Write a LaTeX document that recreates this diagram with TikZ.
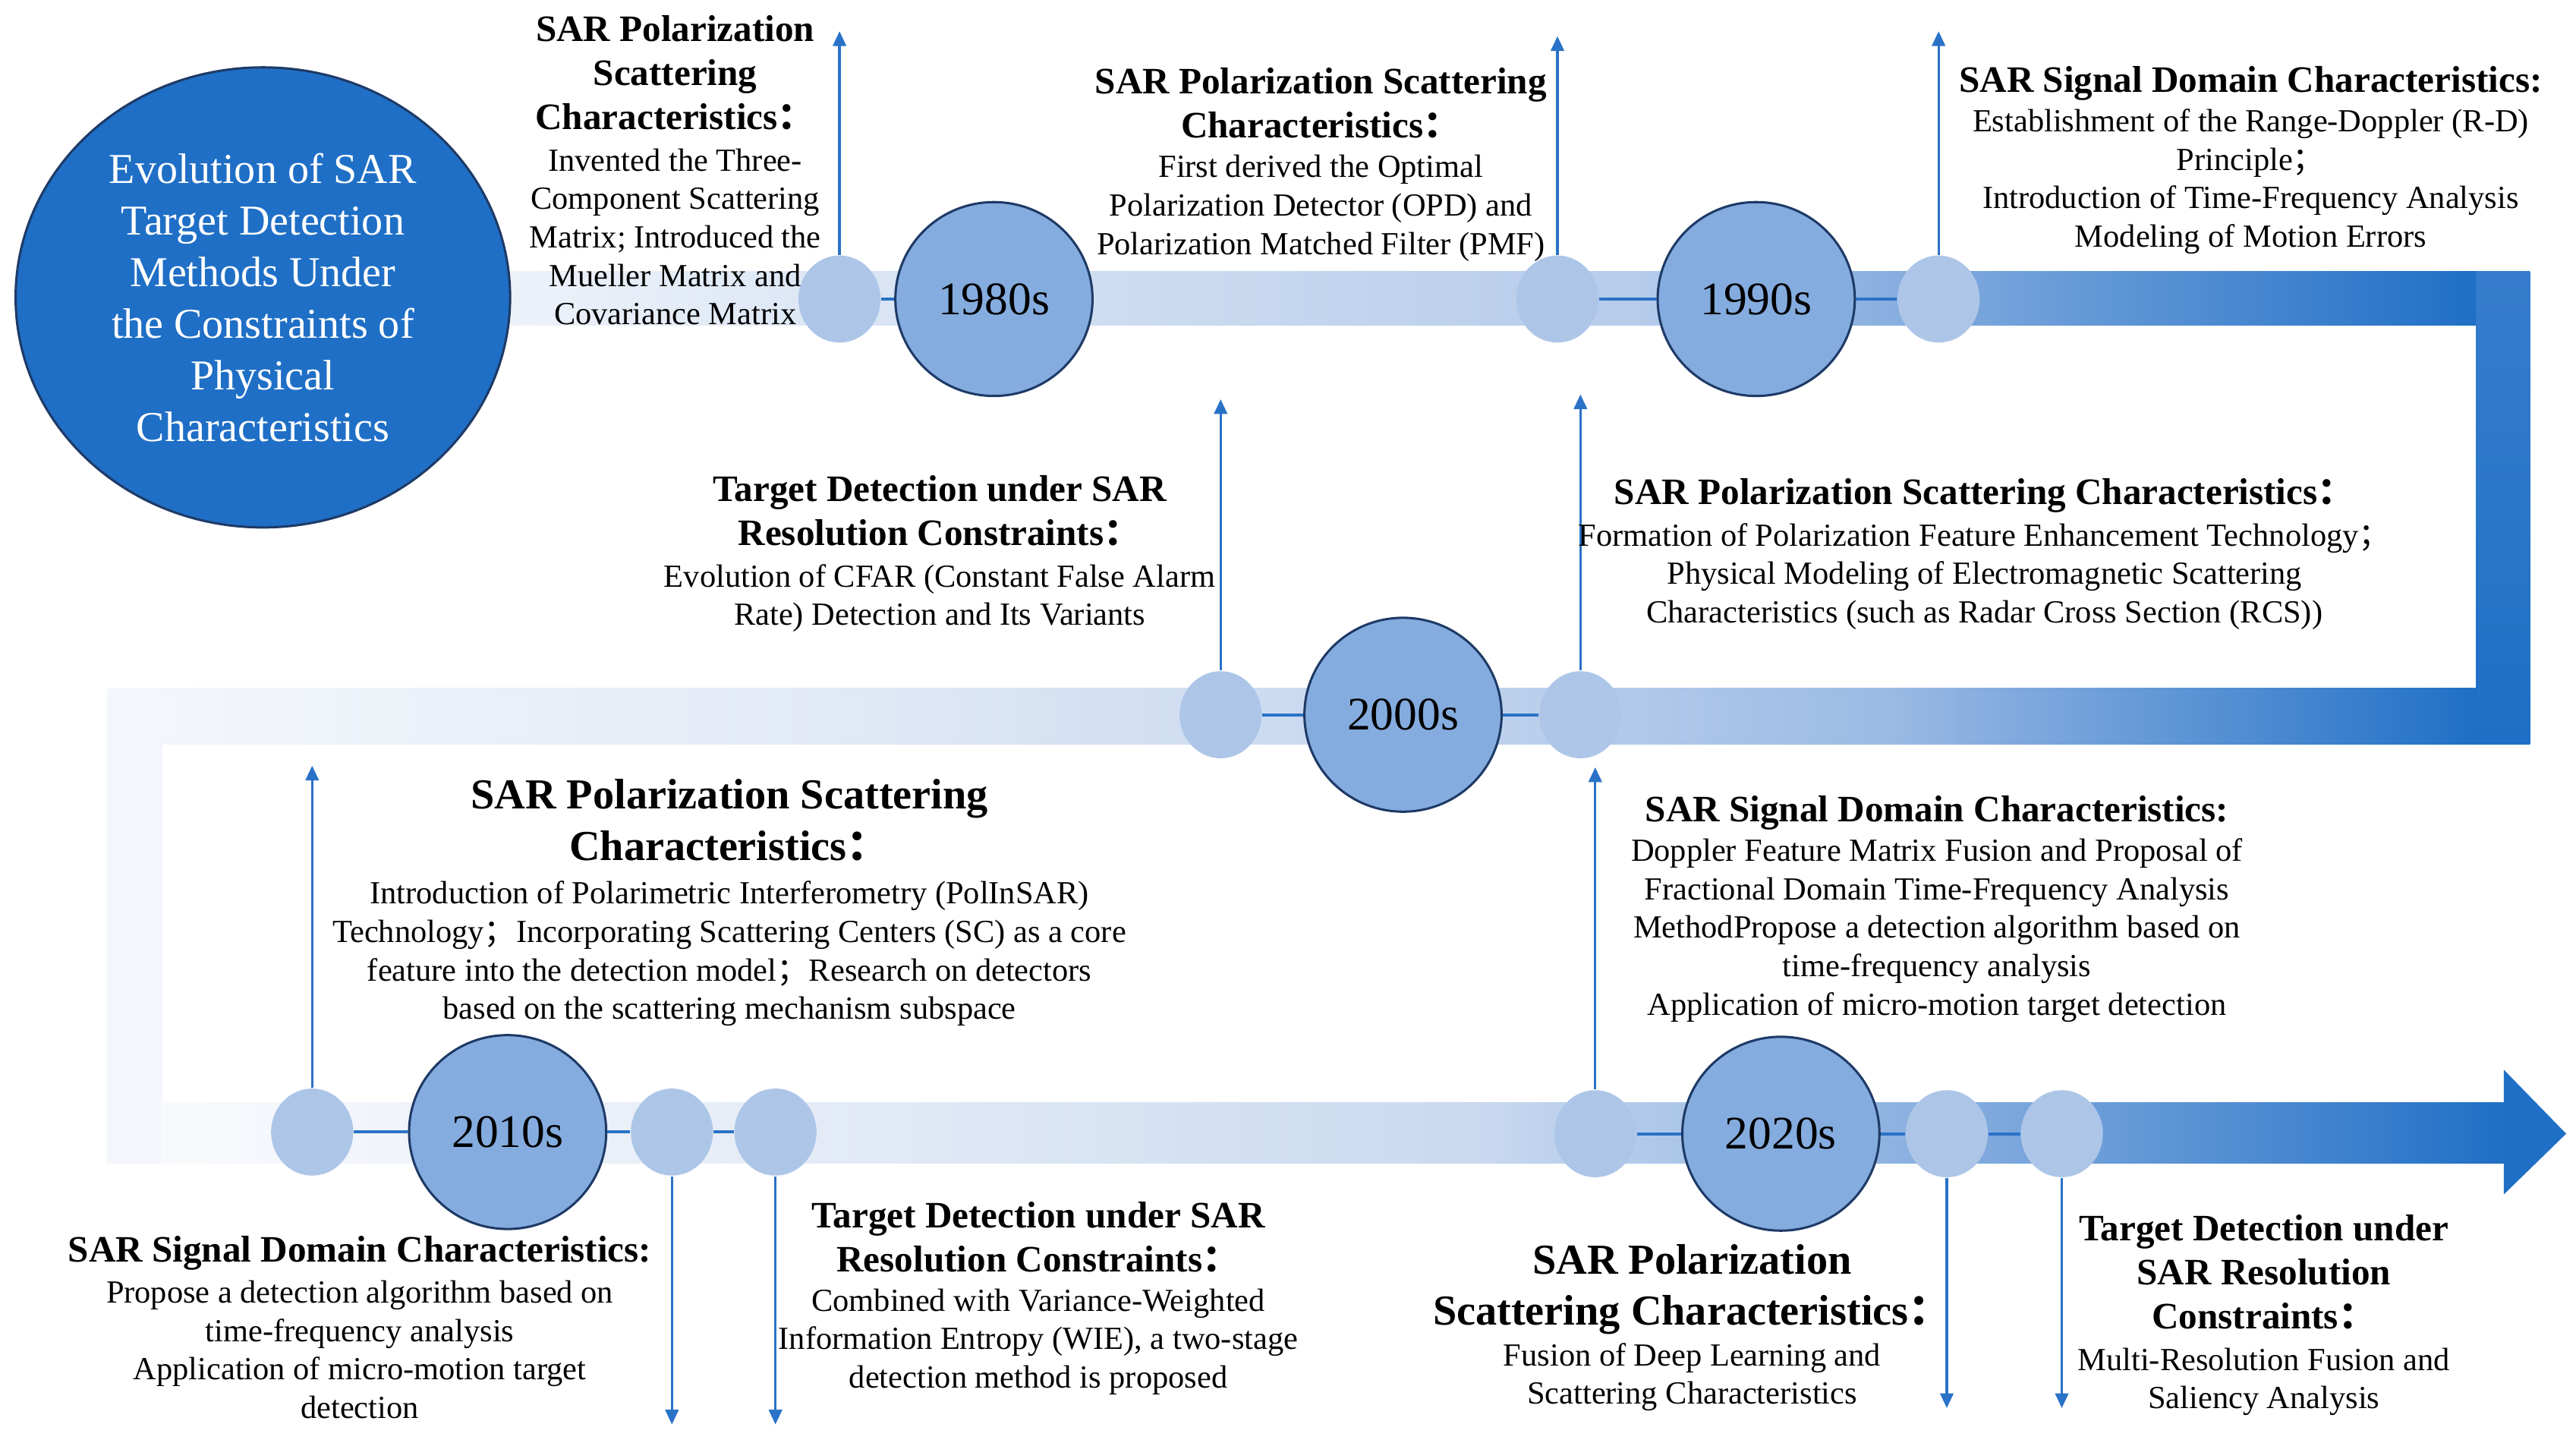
\documentclass[tikz,border=0pt]{standalone}
\usepackage{fontspec}
\setmainfont{Liberation Serif}
\newfontfamily\cjkfw{Noto Sans CJK SC}
\usetikzlibrary{arrows.meta,shapes.geometric}
\definecolor{bigblue}{HTML}{1F6FC6}
\definecolor{decfill}{HTML}{85ACDF}
\definecolor{decline}{HTML}{1E3A66}
\definecolor{smallfill}{HTML}{ADC6E8}
\definecolor{linkblue}{HTML}{2A72C7}
\definecolor{bandA}{HTML}{F3F6FB}
\definecolor{bandB}{HTML}{E2EAF6}
\definecolor{bandC}{HTML}{C6D7EF}
\definecolor{bandD}{HTML}{9BBAE4}
\definecolor{bandE}{HTML}{1F6FC6}
\newcommand{\fwcolon}{{\cjkfw ：}}
\newcommand{\fwsemi}{{\cjkfw ；}}
\tikzset{
  smalldot/.style={ellipse, fill=smallfill, minimum width=25pt, minimum height=26.5pt, inner sep=0},
  decade/.style={ellipse, fill=decfill, draw=decline, line width=0.7pt, minimum width=60pt, minimum height=59pt, inner sep=0, font=\fontsize{14.2pt}{17pt}\selectfont},
  link/.style={draw=linkblue, line width=0.9pt},
  pointer/.style={draw=linkblue, line width=0.75pt, -{Triangle[length=4.5pt,width=4pt]}},
  head/.style={anchor=north, align=center, inner sep=0, font=\bfseries\fontsize{11.35pt}{13.4pt}\selectfont},
  bighead/.style={anchor=north, align=center, inner sep=0, font=\bfseries\fontsize{13pt}{15.5pt}\selectfont},
  body/.style={anchor=north, align=center, inner sep=0, font=\fontsize{9.8pt}{11.7pt}\selectfont},
}
\begin{document}
\begin{tikzpicture}[x=0.5pt, y=-0.5pt]
\path[use as bounding box] (0,0) rectangle (1568,878);
% ---- top band ----
\shade[left color=bandA!70!bandB, right color=bandC!80!bandB] (300,165) rectangle (701,198);
\shade[left color=bandC!80!bandB, right color=bandC!60!bandD] (700,165) rectangle (1001,198);
\shade[left color=bandC!60!bandD, right color=bandD!60!bandE] (1000,165) rectangle (1251,198);
\shade[left color=bandD!60!bandE, right color=bandE] (1250,165) rectangle (1508,198);
% ---- right vertical ----
\shade[top color=bandE!90!white, bottom color=bandE] (1507,165) rectangle (1540,453);
% ---- middle band ----
\shade[left color=bandA, right color=bandB] (98,419) rectangle (501,453);
\shade[left color=bandB, right color=bandC] (500,419) rectangle (851,453);
\shade[left color=bandC, right color=bandD] (850,419) rectangle (1151,453);
\shade[left color=bandD, right color=bandE] (1150,419) rectangle (1508,453);
% ---- left vertical ----
\fill[bandA] (65,419) rectangle (99,708);
% ---- bottom band ----
\shade[left color=bandA!60!white, right color=bandB!90!bandA] (98,671) rectangle (501,708);
\shade[left color=bandB!90!bandA, right color=bandC!90!bandB] (500,671) rectangle (901,708);
\shade[left color=bandC!90!bandB, right color=bandD!80!bandE] (900,671) rectangle (1201,708);
\shade[left color=bandD!80!bandE, right color=bandE] (1200,671) rectangle (1526,708);
\fill[bandE] (1524,651) -- (1562,690) -- (1524,727) -- cycle;

% ---- title circle ----
\node[ellipse, fill=bigblue, draw=decline, line width=0.7pt, minimum width=150.5pt, minimum height=140pt, inner sep=0, text=white, align=center, font=\fontsize{12.95pt}{15.7pt}\selectfont] (title) at (160,181)
  {Evolution of SAR\\Target Detection\\Methods Under\\the Constraints of\\Physical\\Characteristics};

% ---- top row ----
\node[smalldot] (A1) at (511,182) {};
\node[decade] (d1980) at (605,182) {1980s};
\node[smalldot] (A2) at (948,182) {};
\node[decade] (d1990) at (1069,182) {1990s};
\node[smalldot] (A3) at (1180,182) {};
\draw[link] (A1) -- (d1980);
\draw[link] (A2) -- (d1990);
\draw[link] (d1990) -- (A3);
\coordinate (a1) at (511,19);
\coordinate (a2) at (948,22);
\coordinate (a3) at (1180,19);
\draw[pointer] (A1.north) -- (a1);
\draw[pointer] (A2.north) -- (a2);
\draw[pointer] (A3.north) -- (a3);

% ---- middle row ----
\node[smalldot] (B1) at (743,435) {};
\node[decade] (d2000) at (854,435) {2000s};
\node[smalldot] (B2) at (962,435) {};
\draw[link] (B1) -- (d2000);
\draw[link] (d2000) -- (B2);
\coordinate (b1) at (743,243);
\coordinate (b2) at (962,240);
\draw[pointer] (B1.north) -- (b1);
\draw[pointer] (B2.north) -- (b2);

% ---- bottom row ----
\node[smalldot] (C1) at (190,689) {};
\node[decade] (d2010) at (309,689) {2010s};
\node[smalldot] (C2) at (409,689) {};
\node[smalldot] (C3) at (472,689) {};
\node[smalldot] (D1) at (971,690) {};
\node[decade] (d2020) at (1084,690) {2020s};
\node[smalldot] (D2) at (1185,690) {};
\node[smalldot] (D3) at (1255,690) {};
\draw[link] (C1) -- (d2010);
\draw[link] (d2010) -- (C2);
\draw[link] (C2) -- (C3);
\draw[link] (D1) -- (d2020);
\draw[link] (d2020) -- (D2);
\draw[link] (D2) -- (D3);
\coordinate (c1) at (190,466);
\coordinate (c2) at (409,867);
\coordinate (c3) at (472,867);
\coordinate (e1) at (971,467);
\coordinate (e2) at (1185,857);
\coordinate (e3) at (1255,857);
\draw[pointer] (C1.north) -- (c1);
\draw[pointer] (C2.south) -- (c2);
\draw[pointer] (C3.south) -- (c3);
\draw[pointer] (D1.north) -- (e1);
\draw[pointer] (D2.south) -- (e2);
\draw[pointer] (D3.south) -- (e3);

% ---- texts ----
\node[head] (h1) at (411,9) {SAR Polarization\\Scattering\\Characteristics\fwcolon};
\node[body] (t1) at (411,90) {Invented the Three-\\Component Scattering\\Matrix; Introduced the\\Mueller Matrix and\\Covariance Matrix};

\node[head] (h2) at (804,41) {SAR Polarization Scattering\\Characteristics\fwcolon};
\node[body] (t2) at (804,94) {First derived the Optimal\\Polarization Detector (OPD) and\\Polarization Matched Filter (PMF)};

\node[head] (h3) at (1370,40) {SAR Signal Domain Characteristics:};
\node[body] (t3) at (1370,66) {Establishment of the Range-Doppler (R-D)\\Principle\fwsemi\\Introduction of Time-Frequency Analysis\\Modeling of Motion Errors};

\node[head] (h4) at (572,289) {Target Detection under SAR\\Resolution Constraints\fwcolon};
\node[body] (t4) at (572,343) {Evolution of CFAR (Constant False Alarm\\Rate) Detection and Its Variants};

\node[head] (h5) at (1208,291) {SAR Polarization Scattering Characteristics\fwcolon};
\node[body] (t5) at (1208,318) {Formation of Polarization Feature Enhancement Technology\fwsemi\\Physical Modeling of Electromagnetic Scattering\\Characteristics (such as Radar Cross Section (RCS))};

\node[bighead] (h6) at (444,474) {SAR Polarization Scattering\\Characteristics\fwcolon};
\node[body] (t6) at (444,536) {Introduction of Polarimetric Interferometry (PolInSAR)\\Technology\fwsemi Incorporating Scattering Centers (SC) as a core\\feature into the detection model\fwsemi Research on detectors\\based on the scattering mechanism subspace};

\node[head] (h7) at (1179,484) {SAR Signal Domain Characteristics:};
\node[body] (t7) at (1179,510) {Doppler Feature Matrix Fusion and Proposal of\\Fractional Domain Time-Frequency Analysis\\MethodPropose a detection algorithm based on\\time-frequency analysis\\Application of micro-motion target detection};

\node[head] (h8) at (219,752) {SAR Signal Domain Characteristics:};
\node[body] (t8) at (219,779) {Propose a detection algorithm based on\\time-frequency analysis\\Application of micro-motion target\\detection};

\node[head] (h9) at (632,731) {Target Detection under SAR\\Resolution Constraints\fwcolon};
\node[body] (t9) at (632,784) {Combined with Variance-Weighted\\Information Entropy (WIE), a two-stage\\detection method is proposed};

\node[bighead] (h10) at (1030,757) {SAR Polarization\\Scattering Characteristics\fwcolon};
\node[body] (t10) at (1030,817) {Fusion of Deep Learning and\\Scattering Characteristics};

\node[head] (h11) at (1378,739) {Target Detection under\\SAR Resolution\\Constraints\fwcolon};
\node[body] (t11) at (1378,820) {Multi-Resolution Fusion and\\Saliency Analysis};
\end{tikzpicture}
\end{document}
